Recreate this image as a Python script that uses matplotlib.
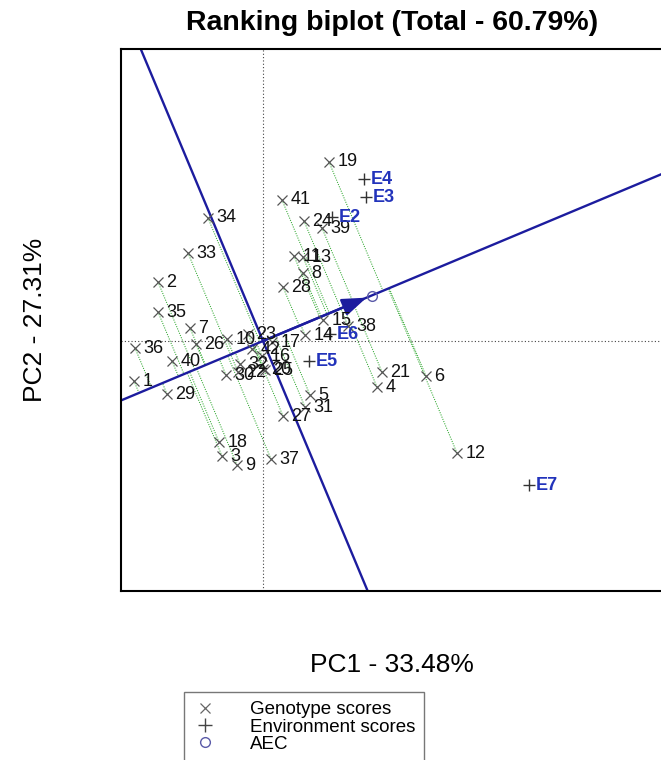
import numpy as np
import matplotlib.pyplot as plt
from matplotlib.lines import Line2D

plt.rcParams['font.family'] = ['Liberation Sans', 'DejaVu Sans']

# genotype scores (PC1, PC2)
geno_labels = [str(i) for i in range(1, 43)]
geno_pc1 = [-1.29, -1.05, -0.41, 1.14, 0.47, 1.63, -0.73, 0.40, -0.26, -0.36,
            0.31, 1.94, 0.40, 0.42, 0.60, -0.01, 0.09, -0.44, 0.66, 0.00,
            1.19, -0.25, -0.15, 0.41, 0.02, -0.67, 0.20, 0.20, -0.96, -0.37,
            0.42, -0.23, -0.75, -0.55, -1.05, -1.28, 0.08, 0.85, 0.59, -0.91,
            0.19, -0.11]
geno_pc2 = [-0.40, 0.59, -1.15, -0.46, -0.54, -0.35, 0.13, 0.68, -1.24, 0.02,
            0.85, -1.12, 0.84, 0.06, 0.21, -0.15, -0.01, -1.01, 1.79, -0.28,
            -0.31, -0.31, 0.07, 1.20, -0.29, -0.03, -0.75, 0.54, -0.53, -0.34,
            -0.66, -0.23, 0.88, 1.23, 0.29, -0.07, -1.18, 0.15, 1.13, -0.20,
            1.41, -0.08]

# environment scores (PC1, PC2)
env_labels = ['E2', 'E3', 'E4', 'E5', 'E6', 'E7']
env_pc1 = [0.69, 1.03, 1.01, 0.46, 0.67, 2.66]
env_pc2 = [1.24, 1.44, 1.62, -0.20, 0.07, -1.44]

blue = '#1c1c9e'
env_col = '#2233bb'

gx, gy = np.array(geno_pc1), np.array(geno_pc2)
ex, ey = np.array(env_pc1), np.array(env_pc2)

# average environment coordinate and its axis direction
aec = np.array([ex.mean(), ey.mean()])
u = aec / np.linalg.norm(aec)
perp = np.array([-u[1], u[0]])

fig = plt.figure(figsize=(6.61, 7.60), dpi=100)
ax = fig.add_axes([121 / 661, 1 - 591 / 760, 542 / 661, 542 / 760])
ax.set_xlim(-1.42, 4.00)
ax.set_ylim(-2.50, 2.92)
ax.set_aspect('equal', adjustable='box')

# projections of genotypes onto the AEC axis
for x, y in zip(gx, gy):
    t = x * u[0] + y * u[1]
    ax.plot([x, t * u[0]], [y, t * u[1]], color='#2ea82e', lw=0.75,
            ls=(0, (1, 1.3)), zorder=1)

ax.axhline(0, color='#444444', lw=0.8, ls=(0, (1, 2)), zorder=1)
ax.axvline(0, color='#444444', lw=0.8, ls=(0, (1, 2)), zorder=1)

L = 20
ax.plot([-L * u[0], L * u[0]], [-L * u[1], L * u[1]], color=blue, lw=1.7, zorder=2)
ax.plot([-L * perp[0], L * perp[0]], [-L * perp[1], L * perp[1]], color=blue, lw=1.7, zorder=2)
ax.annotate('', xy=(aec[0], aec[1]), xytext=(0, 0),
            arrowprops=dict(arrowstyle='-|>,head_length=0.5,head_width=0.18',
                            color=blue, lw=1.7, mutation_scale=30,
                            shrinkA=0, shrinkB=4), zorder=3)
ax.plot(aec[0], aec[1], 'o', mfc='none', mec='#5a5aa8', ms=7, mew=1, zorder=4)

ax.plot(gx, gy, 'x', color='#555555', ms=7, mew=0.9, zorder=4)
for lab, x, y in zip(geno_labels, gx, gy):
    ax.annotate(lab, (x, y), xytext=(6, 0), textcoords='offset points',
                ha='left', va='center', fontsize=13, color='#111111', zorder=5)

ax.plot(ex, ey, '+', color='#333333', ms=9, mew=1.0, zorder=4)
for lab, x, y in zip(env_labels, ex, ey):
    ax.annotate(lab, (x, y), xytext=(5, 0), textcoords='offset points',
                ha='left', va='center', fontsize=13, fontweight='bold',
                color=env_col, zorder=5)

ax.set_xticks([])
ax.set_yticks([])
for s in ax.spines.values():
    s.set_linewidth(1.5)
    s.set_color('black')

fig.text(392 / 661, 1 - 23 / 760, 'Ranking biplot (Total - 60.79%)',
         ha='center', va='center', fontsize=20.5, fontweight='bold')
fig.text(392 / 661, 1 - 665 / 760, 'PC1 - 33.48%', ha='center', va='center',
         fontsize=19)
fig.text(35 / 661, 1 - 320 / 760, 'PC2 - 27.31%', ha='center', va='center',
         fontsize=19, rotation=90)

handles = [
    Line2D([], [], ls='none', marker='x', color='#666666', ms=7, mew=0.9),
    Line2D([], [], ls='none', marker='+', color='#444444', ms=10, mew=1.0),
    Line2D([], [], ls='none', marker='o', mfc='none', mec='#5a5aa8', ms=7, mew=1),
]
leg = fig.legend(handles, ['Genotype scores', 'Environment scores', 'AEC'],
                 loc='upper left', bbox_to_anchor=(184 / 661, 1 - 692 / 760),
                 borderaxespad=0, fancybox=False, fontsize=13.5,
                 handlelength=1.2, handletextpad=1.8, labelspacing=0.0,
                 borderpad=0.5, framealpha=1)
leg.get_frame().set_edgecolor('#777777')
leg.get_frame().set_linewidth(1.0)

fig.savefig('out.png', dpi=100)
